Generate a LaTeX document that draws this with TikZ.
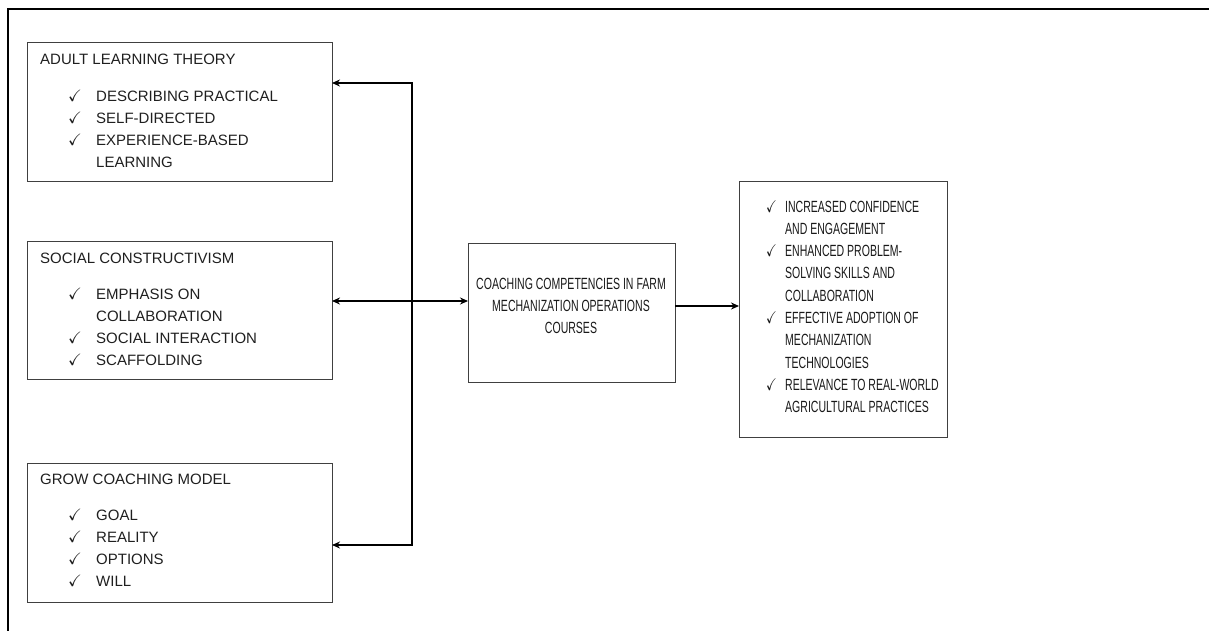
\documentclass[tikz,border=0pt]{standalone}
\usepackage{amssymb}
\usepackage{graphicx}
\usepackage{fontspec}
\setmainfont{Liberation Sans}
\newfontfamily\narrowfont[FakeStretch=0.65]{Liberation Sans}
\usetikzlibrary{arrows.meta}
\newcommand{\ck}{\scalebox{1.1}{$\checkmark$}}
\newcommand{\nck}{\scalebox{0.8}[1.05]{$\checkmark$}}
\begin{document}
\begin{tikzpicture}[x=1pt,y=-1pt,
  box/.style={draw=black!75,line width=0.9pt,inner sep=0pt,outer sep=0pt,anchor=north west},
  txt/.style={anchor=base west,inner sep=0pt,text=black!88,font=\fontsize{15}{22}\selectfont},
  ntxt/.style={anchor=base west,inner sep=0pt,text=black!90,font=\narrowfont\fontsize{16.2}{22.3}\selectfont},
  conn/.style={line width=2pt,line join=miter,-{Stealth[length=8pt,width=7pt]}},
  dconn/.style={line width=2pt,{Stealth[length=8pt,width=7pt]}-{Stealth[length=8pt,width=7pt]}}
]
\useasboundingbox (0,0) rectangle (1209,630);
\draw[line width=2.5pt] (8,631) -- (8,9) -- (1210,9);

% boxes
\node[box,minimum width=305pt,minimum height=139pt] (A) at (27,42) {};
\node[box,minimum width=305pt,minimum height=138pt] (B) at (27,241) {};
\node[box,minimum width=305pt,minimum height=139pt] (C) at (27,463) {};
\node[box,minimum width=207pt,minimum height=139pt] (M) at (468,243) {};
\node[box,minimum width=208pt,minimum height=256pt] (R) at (739,181) {};

% texts of box A
\node[txt] (At) at (40,64) {ADULT LEARNING THEORY};
\node[txt] (Al) at (68,101) {\begin{tabular}[t]{@{}p{28pt}@{}l@{}}
\ck & DESCRIBING PRACTICAL\\
\ck & SELF-DIRECTED\\
\ck & EXPERIENCE-BASED\\
    & LEARNING
\end{tabular}};

% texts of box B
\node[txt] (Bt) at (40,263) {SOCIAL CONSTRUCTIVISM};
\node[txt] (Bl) at (68,299) {\begin{tabular}[t]{@{}p{28pt}@{}l@{}}
\ck & EMPHASIS ON\\
    & COLLABORATION\\
\ck & SOCIAL INTERACTION\\
\ck & SCAFFOLDING
\end{tabular}};

% texts of box C
\node[txt] (Ct) at (40,484) {GROW COACHING MODEL};
\node[txt] (Cl) at (68,520) {\begin{tabular}[t]{@{}p{28pt}@{}l@{}}
\ck & GOAL\\
\ck & REALITY\\
\ck & OPTIONS\\
\ck & WILL
\end{tabular}};

% centre box text
\node[ntxt,anchor=base,font=\narrowfont\fontsize{16.2}{22}\selectfont] (Mt) at (571,289) {\begin{tabular}[t]{@{}c@{}}
COACHING COMPETENCIES IN FARM\\
MECHANIZATION OPERATIONS\\
COURSES
\end{tabular}};

% right box text
\node[ntxt] (Rl) at (766,212) {\begin{tabular}[t]{@{}p{19pt}@{}l@{}}
\nck & INCREASED CONFIDENCE\\
     & AND ENGAGEMENT\\
\nck & ENHANCED PROBLEM-\\
     & SOLVING SKILLS AND\\
     & COLLABORATION\\
\nck & EFFECTIVE ADOPTION OF\\
     & MECHANIZATION\\
     & TECHNOLOGIES\\
\nck & RELEVANCE TO REAL-WORLD\\
     & AGRICULTURAL PRACTICES
\end{tabular}};

% connectors
\coordinate (jt) at (412,83);
\coordinate (jb) at (412,545);
\coordinate (by) at (0,301);
\coordinate (ry) at (0,306);
\draw[conn] (jb) -- (jt) -- (jt -| A.east);
\draw[conn] (jt) -- (jb) -- (jb -| C.east);
\draw[dconn] (B.east |- by) -- (M.west |- by);
\draw[conn] (M.east |- ry) -- (R.west |- ry);
\end{tikzpicture}
\end{document}
